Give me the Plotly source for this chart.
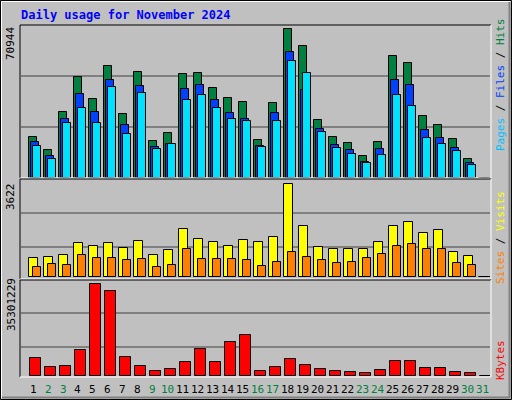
import plotly.graph_objects as go

days = list(range(1, 32))
hits = [19581, 13161, 31458, 47829, 37718, 53126, 30495, 50237, 17495, 21347, 49274, 49756, 42533, 38199, 36273,
        17976, 35792, 70944, 62756, 27606, 19421, 16532, 10272, 17013, 57941, 54570, 29532, 25199, 18458, 8828, 0]
files = [17013, 10272, 28088, 40125, 31458, 46385, 25199, 43496, 14606, 16050, 42051, 43977, 37236, 30977, 28088,
         15087, 30977, 59867, 41570, 23273, 15569, 13161, 7383, 13643, 46385, 43977, 22791, 18939, 14124, 6902, 0]
pages = [15087, 8828, 26162, 33384, 26162, 43014, 20865, 40607, 13643, 16050, 37236, 39644, 33384, 28088, 27125,
         14606, 27125, 55533, 49756, 21828, 14124, 11235, 6902, 10754, 39644, 34347, 18939, 16050, 12680, 5939, 0]
visits = [748, 787, 866, 1338, 1220, 1338, 1141, 1417, 866, 1063, 1889, 1496, 1378, 1220, 1456,
          1378, 1574, 3622, 2007, 1181, 1102, 1102, 1102, 1378, 2007, 2125, 1732, 1850, 984, 827, 0]
sites = [394, 512, 472, 866, 748, 748, 669, 708, 394, 472, 1102, 708, 708, 708, 669,
         433, 590, 984, 787, 669, 551, 590, 748, 905, 1220, 1299, 1102, 1102, 551, 472, 0]
kbytes = [7086035, 3607436, 3993947, 10178123, 35301229, 32595761, 7472546, 3993947, 2061392, 2834414,
          5539991, 10564634, 5539991, 13270211, 15975788, 2061392, 3607436, 6699524, 4380458, 2834414,
          2061392, 1674881, 1288370, 2447903, 5926502, 5926502, 3220925, 3220925, 1674881, 1288370, 0]
weekend = [2, 3, 9, 10, 16, 17, 23, 24, 30, 31]

MONO = "DejaVu Sans Mono"
W, H = 512, 400
def py(p):  # pixel row -> paper y
    return 1 - p / H
def px(p):
    return p / W

fig = go.Figure()
line = dict(color="black", width=1)
def bar(y, color, ax, off, wid):
    fig.add_trace(go.Bar(x=days, y=y, marker=dict(color=color, line=line), offset=off, width=wid,
                         xaxis="x" if ax == "y" else "x" + ax[1:], yaxis=ax, hoverinfo="x+y"))

bar(hits, "#008040", "y", -0.27, 0.54)
bar(files, "#0040FF", "y", -0.14, 0.54)
bar(pages, "#00E0FF", "y", 0.0, 0.54)
bar(visits, "#FFFF00", "y2", -0.27, 0.6)
bar(sites, "#FF8000", "y2", 0.0, 0.54)
bar(kbytes, "#FF0000", "y3", -0.2, 0.73)

xr = [0.2, 31.47]
xd = [px(21), px(490)]
common = dict(showticklabels=False, ticks="", zeroline=False, gridcolor="#808080", gridwidth=1.5)
fig.update_layout(
    width=W, height=H, margin=dict(l=0, r=0, t=0, b=0), showlegend=False,
    paper_bgcolor="#C0C0C0", plot_bgcolor="#C0C0C0", barmode="overlay", bargap=0,
    xaxis=dict(domain=xd, range=xr, visible=False),
    xaxis2=dict(domain=xd, range=xr, visible=False, anchor="y2"),
    xaxis3=dict(domain=xd, range=xr, visible=False, anchor="y3"),
    yaxis=dict(domain=[py(177.5), py(25)], range=[0, 72860], tickvals=[23968, 48415], **common),
    yaxis2=dict(domain=[py(277), py(180)], range=[0, 3780], tickvals=[1181, 2480], **common),
    yaxis3=dict(domain=[py(376), py(281)], range=[0, 36580000], tickvals=[11360000, 24100000], **common),
)

shapes = [
    dict(type="rect", xref="paper", yref="paper", x0=px(0.5), x1=px(511.5), y0=py(399.5), y1=py(0.5),
         line=dict(color="black", width=1)),
    dict(type="line", xref="paper", yref="paper", x0=px(1.5), x1=px(510.5), y0=py(1.5), y1=py(1.5),
         line=dict(color="white", width=1)),
    dict(type="line", xref="paper", yref="paper", x0=px(1.5), x1=px(1.5), y0=py(1.5), y1=py(398.5),
         line=dict(color="white", width=1)),
    dict(type="line", xref="paper", yref="paper", x0=px(509.5), x1=px(509.5), y0=py(2), y1=py(398),
         line=dict(color="#808080", width=2)),
    dict(type="line", xref="paper", yref="paper", x0=px(2), x1=px(510), y0=py(397.5), y1=py(397.5),
         line=dict(color="#808080", width=2)),
]
for top, bot in [(25, 178), (179, 279), (280, 377)]:
    shapes.append(dict(type="line", xref="paper", yref="paper", x0=px(20), x1=px(491), y0=py(top), y1=py(top),
                       line=dict(color="black", width=1)))
    shapes.append(dict(type="line", xref="paper", yref="paper", x0=px(20), x1=px(20), y0=py(top), y1=py(bot),
                       line=dict(color="black", width=1)))
    shapes.append(dict(type="line", xref="paper", yref="paper", x0=px(20), x1=px(491), y0=py(bot), y1=py(bot),
                       line=dict(color="white", width=1)))
    shapes.append(dict(type="line", xref="paper", yref="paper", x0=px(491), x1=px(491), y0=py(top), y1=py(bot),
                       line=dict(color="white", width=1)))
fig.update_layout(shapes=shapes)

ann = [dict(text="<b>Daily usage for November 2024</b>", x=px(19), y=py(15), xanchor="left", yanchor="middle",
            font=dict(family=MONO, size=12, color="#0000FF"))]
for d in days:
    ann.append(dict(text=str(d), x=d, xref="x3", y=py(389), yref="paper", xanchor="center", yanchor="middle",
                    font=dict(family=MONO, size=11, color="#008040" if d in weekend else "black")))
for txt, yy in [(str(max(hits)), 44), (str(max(visits)), 197), (str(max(kbytes)), 305)]:
    ann.append(dict(text=txt, x=px(11), y=py(yy), textangle=-90, xanchor="center", yanchor="middle",
                    font=dict(family=MONO, size=11, color="black")))
ann.append(dict(text="<span style='color:#00C0FF'>Pages</span> / <span style='color:#0040FF'>Files</span> / "
                     "<span style='color:#008040'>Hits</span>",
                x=px(500), y=py(85), textangle=-90, xanchor="center", yanchor="middle",
                font=dict(family=MONO, size=11, color="black")))
ann.append(dict(text="<span style='color:#FF8000'>Sites</span> / <span style='color:#FFFF00'>Visits</span>",
                x=px(500), y=py(238), textangle=-90, xanchor="center", yanchor="middle",
                font=dict(family=MONO, size=11, color="black")))
ann.append(dict(text="KBytes", x=px(500), y=py(360), textangle=-90, xanchor="center", yanchor="middle",
                font=dict(family=MONO, size=11, color="#FF0000")))
for a in ann:
    a.setdefault("xref", "paper")
    a.setdefault("yref", "paper")
    a["showarrow"] = False
fig.update_layout(annotations=ann)

fig.write_html("out.html", config={"displayModeBar": False},
               post_script="document.body.style.margin='0';document.body.style.overflow='hidden';")
